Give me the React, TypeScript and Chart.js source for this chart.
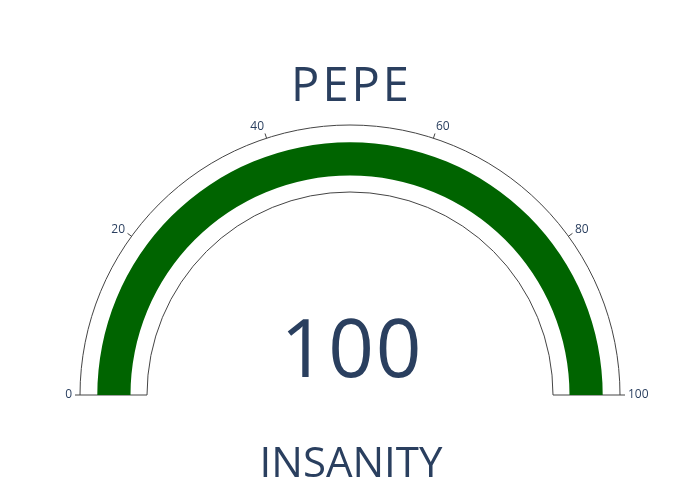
import React, { useEffect, useRef } from "react";
import { Chart, registerables } from "chart.js";

Chart.register(...registerables);

const gaugeTitle = "PEPE";
const gaugeLabel = "INSANITY";
const gaugeValue = 100;
const gaugeMin = 0;
const gaugeMax = 100;
const tickValues = [0, 20, 40, 60, 80, 100];
const tickLabels = ["0", "20", "40", "60", "80", "100"];

const W = 700;
const H = 500;
const CENTER_Y = 395;
const FRAME_OUTER = 270;
const FRAME_INNER = 203;
const BAR_OUTER = 252.7;
const BAR_INNER = 219.5;
const TEXT_COLOR = "#2a3f5f";
const FONT = '"Open Sans", verdana, arial, sans-serif';

// doughnut semicircle: center = chartArea middle + r/2 ; choose top padding so center lands on CENTER_Y
const padFor = (r: number) => 2 * CENTER_Y - H - r;

export default function App() {
  const frameRef = useRef<HTMLCanvasElement | null>(null);
  const barRef = useRef<HTMLCanvasElement | null>(null);

  useEffect(() => {
    if (!frameRef.current || !barRef.current) return;

    const frameChart = new Chart(frameRef.current, {
      type: "doughnut",
      data: {
        labels: ["range"],
        datasets: [
          {
            data: [gaugeMax - gaugeMin],
            backgroundColor: ["#ffffff"],
            borderColor: ["#444444"],
            borderWidth: 1,
          },
        ],
      },
      options: {
        responsive: false,
        animation: false,
        rotation: -90,
        circumference: 180,
        radius: FRAME_OUTER,
        cutout: (FRAME_INNER / FRAME_OUTER) * 100 + "%",
        layout: { padding: { top: padFor(FRAME_OUTER), bottom: 0, left: 0, right: 0 } },
        plugins: { legend: { display: false }, tooltip: { enabled: false }, title: { display: false } },
        events: [],
      },
    });

    const drawSpaced = (ctx: any, text: string, x: number, y: number, spacing: number) => {
      try {
        ctx.letterSpacing = spacing + "px";
      } catch (e) {}
      ctx.fillText(text, x + spacing / 2, y);
      try {
        ctx.letterSpacing = "0px";
      } catch (e) {}
    };

    const textPlugin = {
      id: "gaugeText",
      afterDraw(chart: any) {
        const ctx = chart.ctx;
        const fmeta = frameChart.getDatasetMeta(0);
        const arc: any = fmeta.data[0];
        if (!arc) return;
        const cx = arc.x;
        const cy = arc.y;
        const R = arc.outerRadius;
        const a0 = arc.startAngle;
        const a1 = arc.endAngle;
        ctx.save();
        ctx.font = "12px " + FONT;
        ctx.fillStyle = TEXT_COLOR;
        ctx.strokeStyle = "#444444";
        ctx.lineWidth = 1;
        tickValues.forEach((v, i) => {
          const ang = a0 + ((v - gaugeMin) / (gaugeMax - gaugeMin)) * (a1 - a0);
          const c = Math.cos(ang);
          const s = Math.sin(ang);
          const x1 = cx + R * c;
          const y1 = cy + R * s;
          const x2 = cx + (R + 5) * c;
          const y2 = cy + (R + 5) * s;
          ctx.beginPath();
          ctx.moveTo(x1, y1);
          ctx.lineTo(x2, y2);
          ctx.stroke();
          const lx = x2 + c * 3;
          const ly = y2 + s * 2 + s * 5;
          ctx.textAlign = c < -0.05 ? "right" : c > 0.05 ? "left" : "center";
          ctx.textBaseline = "middle";
          ctx.fillText(tickLabels[i], lx, ly);
        });
        ctx.textAlign = "center";
        ctx.textBaseline = "alphabetic";
        ctx.font = "47px " + FONT;
        drawSpaced(ctx, gaugeTitle, W / 2, 100.7, 3);
        ctx.font = "80px " + FONT;
        drawSpaced(ctx, String(gaugeValue), W / 2 + 1, 377.3, 2);
        ctx.font = "42px " + FONT;
        ctx.fillText(gaugeLabel, W / 2 + 1, 476.7);
        ctx.restore();
      },
    };

    const barChart = new Chart(barRef.current, {
      type: "doughnut",
      data: {
        labels: ["value", "rest"],
        datasets: [
          {
            data: [gaugeValue - gaugeMin, gaugeMax - gaugeValue],
            backgroundColor: ["#006400", "rgba(0,0,0,0)"],
            borderWidth: 0,
          },
        ],
      },
      options: {
        responsive: false,
        animation: false,
        rotation: -90,
        circumference: 180,
        radius: BAR_OUTER,
        cutout: (BAR_INNER / BAR_OUTER) * 100 + "%",
        layout: { padding: { top: padFor(BAR_OUTER), bottom: 0, left: 0, right: 0 } },
        plugins: { legend: { display: false }, tooltip: { enabled: false }, title: { display: false } },
        events: [],
      },
      plugins: [textPlugin],
    });

    return () => {
      barChart.destroy();
      frameChart.destroy();
    };
  }, []);

  const canvasStyle: React.CSSProperties = { position: "absolute", left: 0, top: 0 };
  return (
    <div style={{ position: "fixed", left: 0, top: 0, width: W, height: H, background: "#ffffff" }}>
      <canvas ref={frameRef} width={W} height={H} style={canvasStyle} />
      <canvas ref={barRef} width={W} height={H} style={canvasStyle} />
    </div>
  );
}
